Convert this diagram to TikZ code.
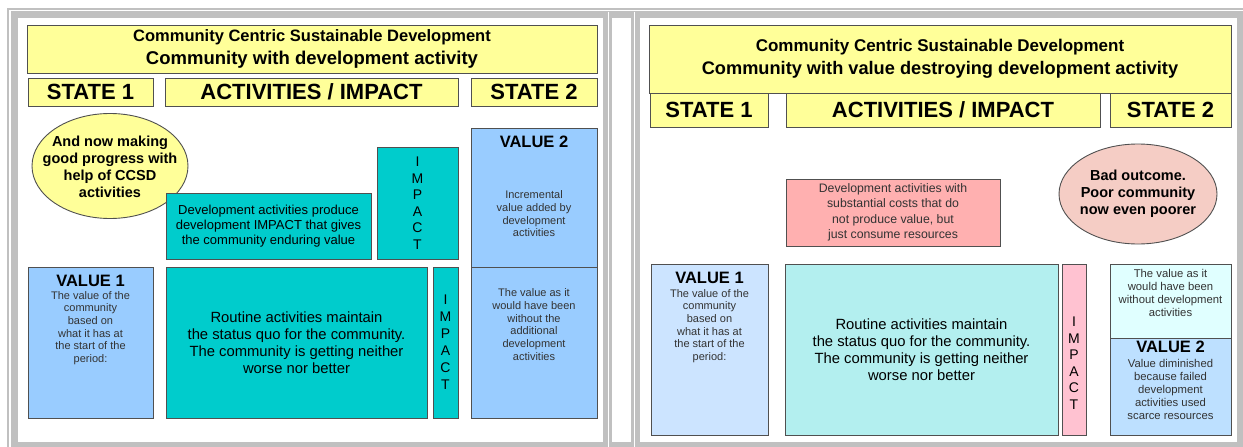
\documentclass[tikz,border=0pt]{standalone}
\usepackage{fontspec}
\setmainfont{Liberation Sans}
\usetikzlibrary{shapes.geometric}
\definecolor{fgray}{HTML}{C0C0C0}
\definecolor{bord}{HTML}{505050}
\definecolor{yel}{HTML}{FFFF99}
\definecolor{tealA}{HTML}{00CCCC}
\definecolor{bluA}{HTML}{99CCFF}
\definecolor{bluB}{HTML}{CCE4FF}
\definecolor{bluC}{HTML}{BDE0FF}
\definecolor{cyB}{HTML}{B3EFEF}
\definecolor{cyC}{HTML}{E0FFFF}
\definecolor{pnkA}{HTML}{FFB0B0}
\definecolor{pnkB}{HTML}{FFC2D1}
\definecolor{peach}{HTML}{F5CDC5}
\definecolor{smtxt}{HTML}{333333}
\tikzset{
  bx/.style={draw=bord, line width=0.9pt, inner sep=0pt, outer sep=0pt, anchor=north west},
  st/.style={font=\fontsize{22}{24}\selectfont\bfseries},
  hv/.style={inner sep=0pt, font=\fontsize{16.5}{18}\selectfont\bfseries},
  sm/.style={inner sep=0pt, align=center, text=smtxt, font=\fontsize{11}{12.7}\selectfont},
  imp/.style={align=center, font=\fontsize{14}{16.5}\selectfont},
  ell/.style={ellipse, draw=bord, line width=0.9pt, inner sep=0pt},
  elltxt/.style={inner sep=0pt, align=center, font=\fontsize{14.5}{17}\selectfont\bfseries},
}
\begin{document}
\begin{tikzpicture}[x=1pt,y=-1pt]
\useasboundingbox (0,0) rectangle (1243,447);
% frames
\fill[fgray] (7,8) rectangle (1243,447);
\draw[white, line width=1.2pt] (10,447) -- (10,10.6) -- (1243,10.6);
\draw[white, line width=1pt] (608.3,11.5) -- (608.3,447);
\draw[white, line width=1pt] (634.5,11.5) -- (634.5,447);
\fill[white] (18,17.5) rectangle (603,441.5);
\fill[white] (612,17.5) rectangle (630.5,441.5);
\fill[white] (640,17.5) rectangle (1237,441.5);

% ---------------- left panel ----------------
\node[bx, fill=yel, minimum width=570, minimum height=48, align=center,
      font=\fontsize{18.5}{22.5}\selectfont\bfseries] (t1) at (27,25)
  {{\fontsize{16.5}{19}\selectfont Community Centric Sustainable Development}\\Community with development activity};
\node[bx, fill=yel, st, minimum width=125, minimum height=28] (s1L) at (28,78) {STATE 1};
\node[bx, fill=yel, st, minimum width=293, minimum height=28] (aL) at (165,78) {ACTIVITIES / IMPACT};
\node[bx, fill=yel, st, minimum width=126, minimum height=28] (s2L) at (471,78) {STATE 2};

\node[ell, fill=yel, minimum width=156, minimum height=105] (eL) at (110,166) {};
\node[elltxt] (eLt) at (110,167) {And now making\\good progress with\\help of CCSD\\activities};

\node[bx, fill=tealA, imp, minimum width=81, minimum height=112] (impU) at (377,147) {I\\M\\P\\A\\C\\T};
\node[bx, fill=tealA, minimum width=205, minimum height=66, align=center,
      font=\fontsize{13}{15}\selectfont] (devL) at (166,193)
  {Development activities produce\\development IMPACT that gives\\the community enduring value};

\node[bx, fill=bluA, minimum width=126, minimum height=139] (v2La) at (471,128) {};
\node[hv] (v2Lh) at (534,142) {VALUE 2};
\node[sm] (v2Lt) at (534,214) {Incremental\\value added by\\development\\activities};
\node[bx, fill=bluA, minimum width=126, minimum height=151] (v2Lb) at (471,267) {};
\node[sm] (v2Lbt) at (534,324.5) {The value as it\\would have been\\without the\\additional\\development\\activities};

\node[bx, fill=bluA, minimum width=125, minimum height=151] (v1L) at (28,267) {};
\node[hv] (v1Lh) at (90.5,281) {VALUE 1};
\node[sm] (v1Lt) at (90.5,328) {The value of the\\community\\based on\\what it has at\\the start of the\\period:};

\node[bx, fill=tealA, minimum width=261, minimum height=151, align=center,
      font=\fontsize{14.8}{17}\selectfont] (rtL) at (166,267)
  {Routine activities maintain\\the status quo for the community.\\The community is getting neither\\worse nor better};
\node[bx, fill=tealA, imp, font=\fontsize{14}{17}\selectfont, minimum width=25, minimum height=151] (impL) at (433,267) {I\\M\\P\\A\\C\\T};

% ---------------- right panel ----------------
\node[bx, fill=yel, minimum width=582, minimum height=68, align=center,
      font=\fontsize{18.2}{22.5}\selectfont\bfseries] (t2) at (649,25)
  {{\fontsize{17}{19}\selectfont Community Centric Sustainable Development}\\Community with value destroying development activity};
\node[bx, fill=yel, st, minimum width=118, minimum height=34] (s1R) at (650,93) {STATE 1};
\node[bx, fill=yel, st, minimum width=314, minimum height=34] (aR) at (786,93) {ACTIVITIES / IMPACT};
\node[bx, fill=yel, st, minimum width=121, minimum height=34] (s2R) at (1110,93) {STATE 2};

\node[bx, fill=pnkA, minimum width=214, minimum height=67, align=center, text=smtxt,
      font=\fontsize{12.3}{15.5}\selectfont] (pkR) at (786,179)
  {Development activities with\\substantial costs that do\\not produce value, but\\just consume resources};
\node[ell, fill=peach, minimum width=158, minimum height=100] (eR) at (1138,194) {};
\node[elltxt] (eRt) at (1138,194) {Bad outcome.\\Poor community\\now even poorer};

\node[bx, fill=bluB, minimum width=117, minimum height=171] (v1R) at (651,264) {};
\node[hv] (v1Rh) at (709.5,278) {VALUE 1};
\node[sm] (v1Rt) at (709.5,326) {The value of the\\community\\based on\\what it has at\\the start of the\\period:};

\node[bx, fill=cyB, minimum width=273, minimum height=171, align=center,
      font=\fontsize{14.8}{17}\selectfont] (rtR) at (785,264)
  {Routine activities maintain\\the status quo for the community.\\The community is getting neither\\worse nor better};
\node[bx, fill=pnkB, minimum width=24, minimum height=171] (impR) at (1062,264) {};
\node[imp, inner sep=0pt] (impRt) at (1074,363) {I\\M\\P\\A\\C\\T};

\node[bx, fill=cyC, minimum width=121, minimum height=74] (topR) at (1110,264) {};
\node[sm, font=\fontsize{11.3}{13}\selectfont] (topRt) at (1170.5,293) {The value as it\\would have been\\without development\\activities};
\node[bx, fill=bluC, minimum width=121, minimum height=97] (v2R) at (1110,338) {};
\node[hv] (v2Rh) at (1170.5,347) {VALUE 2};
\node[sm, font=\fontsize{11.3}{13}\selectfont] (v2Rt) at (1170.5,389) {Value diminished\\because failed\\development\\activities used\\scarce resources};
\end{tikzpicture}
\end{document}
